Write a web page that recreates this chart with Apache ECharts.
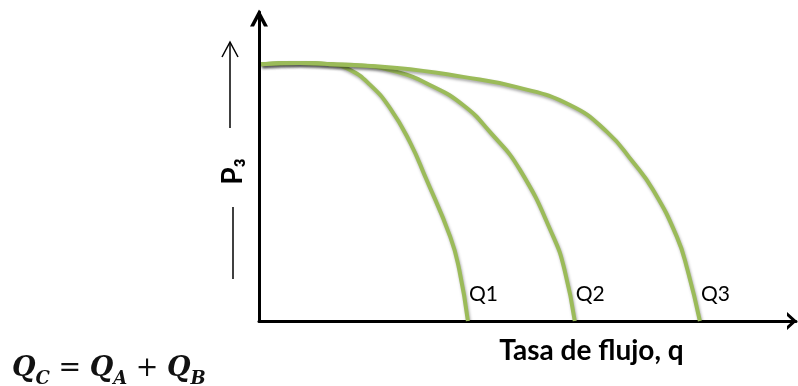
<!DOCTYPE html>
<html>
<head>
<meta charset="utf-8">
<script src="https://cdn.jsdelivr.net/npm/echarts/dist/echarts.min.js"></script>
<style>
  html, body { margin: 0; padding: 0; background: #fff; }
  #chart { width: 798px; height: 386px; }
</style>
</head>
<body>
<div id="chart"></div>
<script>
// curve names (end labels)
const curveNames = ['Q1', 'Q2', 'Q3'];
// flow rate q (x) and pressure P3 (y), axis scale 0..100
const q1Flow = [0.4, 7.6, 13.2, 16.9, 20.7, 24.4, 28.1, 31.0, 35.6, 37.3, 38.9];
const q1Press = [83.1, 83.5, 83.1, 81.3, 76.4, 68.9, 57.9, 46.5, 27.3, 16.5, 0];
const q2Flow = [0.4, 7.6, 13.2, 18.8, 25.7, 31.8, 38.0, 43.0, 48.6, 54.8, 56.9, 58.8];
const q2Press = [83.1, 83.5, 83.1, 82.7, 80.6, 76.4, 69.9, 61.2, 48.9, 27.3, 16.5, 0];
const q3Flow = [0.4, 7.6, 13.2, 25.7, 38.0, 48.0, 57.9, 64.8, 69.6, 73.4, 77.8, 79.8, 82.1];
const q3Press = [83.1, 83.5, 83.1, 81.9, 79.0, 75.7, 69.9, 61.2, 51.5, 42.4, 27.3, 16.5, 0];

const green = '#9BBB59';
const gill = 'Lato, "Open Sans", sans-serif';

function zip(xs, ys) {
  return xs.map(function (x, i) { return [x, ys[i]]; });
}

function curve(name, xs, ys) {
  return {
    name: name,
    type: 'line',
    smooth: 0.5,
    showSymbol: false,
    data: zip(xs, ys),
    lineStyle: {
      color: green,
      width: 4,
      shadowColor: 'rgba(0,0,0,0.35)',
      shadowBlur: 3,
      shadowOffsetY: 2,
      shadowOffsetX: 1
    },
    endLabel: {
      show: true,
      formatter: '{a}',
      color: '#000',
      fontSize: 21,
      fontFamily: gill,
      offset: [-7, -27]
    }
  };
}

const chart = echarts.init(document.getElementById('chart'));

const option = {
  animation: false,
  grid: { left: 259, right: 2, top: 12, bottom: 65 },
  xAxis: {
    type: 'value',
    min: 0,
    max: 100,
    name: 'Tasa de flujo, q',
    nameLocation: 'middle',
    nameGap: 16,
    nameTextStyle: {
      color: '#000',
      fontSize: 28,
      fontWeight: 'bold',
      fontFamily: gill,
      padding: [0, 0, 0, 128]
    },
    axisLine: {
      lineStyle: { color: '#000', width: 3 },
      symbol: ['none', 'path://M0,10 L9,0 L18,10 L14,10 L9,4.5 L4,10 Z'],
      symbolSize: [18, 10],
      symbolOffset: [0, -4]
    },
    axisTick: { show: false },
    axisLabel: { show: false },
    splitLine: { show: false }
  },
  yAxis: {
    type: 'value',
    min: 0,
    max: 100,
    name: 'P\u2083',
    nameLocation: 'middle',
    nameRotate: 90,
    nameGap: 12,
    nameTextStyle: {
      color: '#000',
      fontSize: 28,
      fontWeight: 'bold',
      fontFamily: gill,
      padding: [0, 10, 0, 0]
    },
    axisLine: {
      lineStyle: { color: '#000', width: 3 },
      symbol: ['none', 'path://M0,17 L9,0 L18,17 L14,17 L9,7.5 L4,17 Z'],
      symbolSize: [18, 17],
      symbolOffset: [0, -6]
    },
    axisTick: { show: false },
    axisLabel: { show: false },
    splitLine: { show: false }
  },
  graphic: [
    // thin arrow above P3
    {
      type: 'polyline',
      shape: { points: [[230, 128], [230, 43]] },
      style: { stroke: '#000', lineWidth: 1.5, fill: null }
    },
    {
      type: 'polyline',
      shape: { points: [[222, 57], [230, 42], [238, 57]] },
      style: { stroke: '#000', lineWidth: 1.5, fill: null }
    },
    // thin line below P3
    {
      type: 'polyline',
      shape: { points: [[233, 207], [233, 279]] },
      style: { stroke: '#000', lineWidth: 1.5, fill: null }
    },
    // formula bottom left
    {
      type: 'text',
      left: 12,
      top: 355,
      style: {
        text: '{q|Q}{s|C}{o| = }{q|Q}{s|A}{o| + }{q|Q}{s|B}',
        fill: '#111',
        rich: {
          q: { fontFamily: '"DejaVu Serif", serif', fontStyle: 'italic', fontWeight: 'bold', fontSize: 27, lineHeight: 30, verticalAlign: 'top' },
          s: { fontFamily: '"DejaVu Serif", serif', fontStyle: 'italic', fontWeight: 'bold', fontSize: 18, lineHeight: 18, verticalAlign: 'top', padding: [15, 0, 0, 0] },
          o: { fontFamily: '"DejaVu Serif", serif', fontSize: 27, lineHeight: 30, verticalAlign: 'top' }
        }
      }
    }
  ],
  series: [
    curve(curveNames[0], q1Flow, q1Press),
    curve(curveNames[1], q2Flow, q2Press),
    curve(curveNames[2], q3Flow, q3Press)
  ]
};

chart.setOption(option);
</script>
</body>
</html>
